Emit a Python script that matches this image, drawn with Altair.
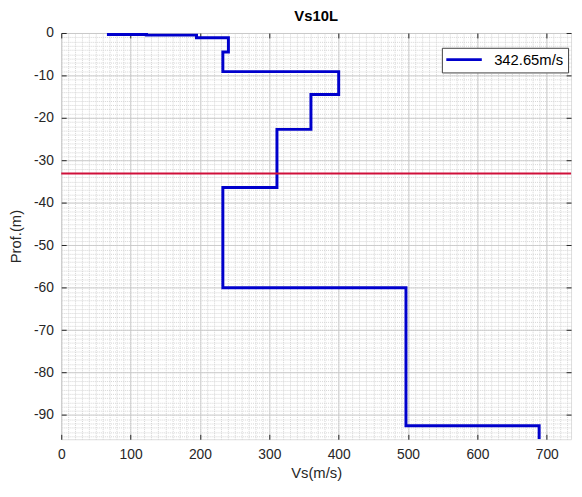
import altair as alt
import pandas as pd

# ---- data ----
title_text = "Vs10L"
legend_label = "342.65m/s"
layer_vs = [68, 123, 195, 241, 233, 400, 360, 311, 233, 497, 689]
layer_top = [0.0, 0.35, 0.5, 1.1, 4.5, 9.1, 14.5, 22.7, 36.4, 60.0, 92.5]
profile_bottom = 95.7
ref_depth = [-33.1]
x_ticks = [0, 100, 200, 300, 400, 500, 600, 700]
y_ticks = [0, -10, -20, -30, -40, -50, -60, -70, -80, -90]
x_minor = list(range(0, 736, 10))
y_minor = list(range(0, -96, -1))
x_domain = [0, 735]
y_domain = [-95.7, 0]

W, H = 517, 412
FONT = "Liberation Sans"
TXT = "#262626"

rows = []
bottoms = layer_top[1:] + [profile_bottom]
k = 0
for v, t, b in zip(layer_vs, layer_top, bottoms):
    rows.append({"vs": v, "depth": -t, "order": k, "series": legend_label}); k += 1
    rows.append({"vs": v, "depth": -b, "order": k, "series": legend_label}); k += 1
prof = pd.DataFrame(rows)
ref = pd.DataFrame({"depth": ref_depth})

xs = alt.Scale(domain=x_domain, nice=False, zero=False)
ys = alt.Scale(domain=y_domain, nice=False, zero=False)

def blank_axis(**kw):
    base = dict(labels=False, ticks=False, domain=False, grid=False, title=None)
    base.update(kw)
    return alt.Axis(**base)

# minor grid (dotted)
minor = alt.Chart(prof).mark_line(opacity=0).encode(
    x=alt.X("vs:Q", scale=xs, axis=blank_axis(orient="top", values=x_minor, grid=True,
                                              gridColor="#d4d4d4", gridDash=[1, 1], gridWidth=1)),
    y=alt.Y("depth:Q", scale=ys, axis=blank_axis(orient="right", values=y_minor, grid=True,
                                                 gridColor="#d4d4d4", gridDash=[1, 1], gridWidth=1)),
    order="order:Q",
)

# main line with labelled axes and major grid
main = alt.Chart(prof).mark_line(strokeWidth=3, clip=True).encode(
    x=alt.X("vs:Q", scale=xs, axis=alt.Axis(
        orient="bottom", values=x_ticks, grid=True, gridColor="#c4c4c4", gridWidth=0.8,
        ticks=False, domain=False, labelFlush=False, labelOverlap=False,
        labelFont=FONT, labelFontSize=14, labelColor=TXT, labelPadding=9,
        labelExpr="datum.value + ''",
        title="Vs(m/s)", titleFont=FONT, titleFontSize=15, titleFontWeight="normal",
        titleColor=TXT, titlePadding=4)),
    y=alt.Y("depth:Q", scale=ys, axis=alt.Axis(
        orient="left", values=y_ticks, grid=True, gridColor="#c4c4c4", gridWidth=0.8,
        ticks=False, domain=False, labelFlush=False, labelOverlap=False,
        labelFont=FONT, labelFontSize=14, labelColor=TXT, labelPadding=8,
        labelExpr="datum.value + ''",
        title="Prof.(m)", titleFont=FONT, titleFontSize=15, titleFontWeight="normal",
        titleColor=TXT, titlePadding=10)),
    color=alt.Color("series:N", scale=alt.Scale(domain=[legend_label], range=["#0000CC"]),
                    legend=alt.Legend(orient="none", legendX=386, legendY=15, title=None,
                                      strokeColor="#404040", fillColor="white", padding=4.5,
                                      labelFont=FONT, labelFontSize=15, labelColor="black",
                                      symbolType="M-3,0H3", symbolSize=144, symbolStrokeWidth=3,
                                      symbolOffset=10.5, labelOffset=23, cornerRadius=0)),
    order="order:Q",
)

# red reference line
rule = alt.Chart(ref).mark_rule(color="#D0103A", strokeWidth=2).encode(
    y=alt.Y("depth:Q", scale=ys, axis=None)
)

# inward ticks on bottom and left edges
ticks_a = alt.Chart(prof).mark_line(opacity=0).encode(
    x=alt.X("vs:Q", scale=xs, axis=blank_axis(orient="top", offset=-H, values=x_ticks, ticks=True,
                                              tickSize=5, tickColor=TXT, tickWidth=1)),
    y=alt.Y("depth:Q", scale=ys, axis=blank_axis(orient="right", offset=-W, values=y_ticks, ticks=True,
                                                 tickSize=5, tickColor=TXT, tickWidth=1)),
    order="order:Q",
)
# inward ticks on top and right edges
ticks_b = alt.Chart(prof).mark_line(opacity=0).encode(
    x=alt.X("vs:Q", scale=xs, axis=blank_axis(orient="bottom", offset=-H, values=x_ticks, ticks=True,
                                              tickSize=5, tickColor=TXT, tickWidth=1)),
    y=alt.Y("depth:Q", scale=ys, axis=blank_axis(orient="left", offset=-W, values=y_ticks, ticks=True,
                                                 tickSize=5, tickColor=TXT, tickWidth=1)),
    order="order:Q",
)

chart = alt.layer(minor, main, rule, ticks_a, ticks_b).resolve_axis(
    x="independent", y="independent"
).properties(
    width=W, height=H,
    autosize=alt.AutoSizeParams(type="none"),
    padding={"left": 54, "top": 22, "right": 3, "bottom": 40},
    title=alt.TitleParams(title_text, font=FONT, fontSize=15, fontWeight="bold",
                          color="black", anchor="middle", offset=2),
).configure_view(stroke="#6e6e6e", strokeWidth=1).configure(background="white")

chart.save("out.html", embed_options={"renderer": "svg", "actions": False})
